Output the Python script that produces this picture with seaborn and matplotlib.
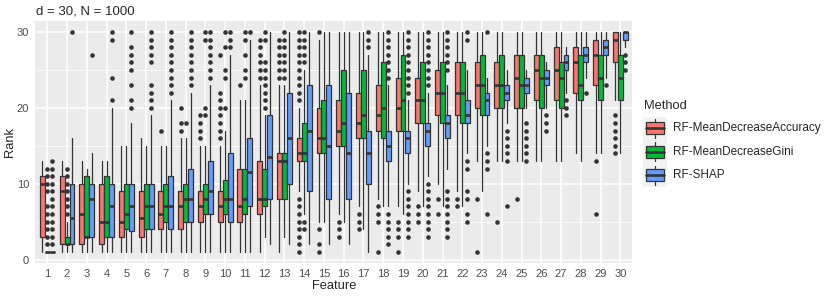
import matplotlib
matplotlib.use("Agg")
import matplotlib.pyplot as plt
from matplotlib.patches import Rectangle
from matplotlib.lines import Line2D
import seaborn as sns

# rank distributions per feature (d = 30, N = 1000)
features = list(range(1, 31))
methods = ["RF-MeanDecreaseAccuracy", "RF-MeanDecreaseGini", "RF-SHAP"]
palette = ["#F8766D", "#00BA38", "#619CFF"]

# RF-MeanDecreaseAccuracy
acc_lo = [1, 1, 1, 1, 1, 1, 1, 1, 1, 1, 1, 1, 1, 9, 5, 6, 7, 8, 7, 9, 10, 9, 13, 13, 13, 13, 13, 14, 14, 21]
acc_q1 = [3, 2, 2, 2, 3, 3, 4, 4, 5, 5, 5, 6, 8, 13, 14, 15, 16, 17, 17, 18, 19, 19, 20, 20, 20, 21, 21, 22, 23, 26]
acc_med = [10, 9, 6, 5, 5, 5.5, 6, 7, 7, 7, 7, 8, 13, 14, 16, 17, 18, 19, 20, 21, 22, 22, 23, 23, 24, 25, 25, 26, 27, 29]
acc_q3 = [11, 11, 10, 10, 9, 9, 9, 9, 9, 9, 12, 13, 14, 16, 20, 21, 22, 23, 24, 24, 25, 26, 26, 26, 27, 27, 28, 28, 29, 30]
acc_hi = [13, 13, 13, 13, 15, 16, 15, 16, 15, 15, 21, 23, 23, 20, 29, 30, 30, 30, 30, 30, 30, 30, 30, 30, 30, 30, 30, 30, 30, 30]
acc_out = [[], [], [], [], [], [], [17], [17, 18, 20], [16, 17, 18, 19],
           [16, 17, 18, 19, 20, 21, 22, 27], [23], [24, 25, 26, 27, 28, 29],
           [24, 25, 26, 27, 28, 29],
           [1, 2, 3, 4, 5, 6, 7, 8, 21, 22, 23, 24, 25, 26, 27, 28, 29, 30],
           [1, 2, 4, 30], [3, 4, 5], [4, 5, 6], [1, 5, 6, 7], [1, 3, 4, 5],
           [5, 6, 7], [6, 8], [7, 8], [1, 8], [5], [8], [], [], [], [6, 13],
           [14, 15, 16, 17, 18, 19]]

# RF-MeanDecreaseGini
gini_lo = [1, 1, 1, 1, 1, 1, 1, 1, 1, 1, 1, 3, 3, 6, 5, 5, 4, 7, 6, 7, 7, 7, 9, 13, 13, 13, 13, 13, 14, 14]
gini_q1 = [1, 2, 3, 3, 4, 4, 5, 5, 6, 6, 6, 7, 8, 13, 14, 15, 16, 16, 17, 18, 18, 18, 19, 20, 20, 20, 20, 21, 21, 21]
gini_med = [1, 2, 3, 5, 6, 7, 7, 8, 8, 8, 8, 8, 13, 14, 16, 18, 19, 20, 21, 21, 22, 22, 23, 23, 23, 24, 24, 23, 24, 24]
gini_q3 = [1, 3, 11, 11, 10, 10, 10, 10, 10, 10.5, 12, 12, 14, 18, 21, 25, 25, 26, 27, 26, 26, 26, 27, 27, 27, 27, 26, 27, 27, 27]
gini_hi = [1, 5, 12, 13, 15, 15, 15, 16, 15, 17, 21, 19, 23, 25, 30, 30, 30, 30, 30, 30, 30, 30, 30, 30, 30, 30, 30, 30, 30, 30]
gini_out = [[2, 3, 4, 5, 6, 7, 9, 10, 11, 12], [6, 7, 8, 9, 10, 11, 12], [], [], [],
            [], [], [18], [19, 20, 29, 30], [20, 24, 25, 28, 30],
            [24, 25, 27, 29, 30], [20, 21, 22, 23, 24, 25, 26, 29, 30],
            [24, 25, 26, 27, 28, 29, 30], [4, 5, 26, 27, 28, 29, 30],
            [], [], [], [], [], [], [], [], [], [], [], [], [], [], [], []]

# RF-SHAP
shap_lo = [1, 1, 1, 1, 1, 1, 1, 1, 1, 1, 1, 2, 2, 2, 2, 2, 1, 7, 10, 11, 12, 14, 15, 18, 20, 20, 22, 24, 24, 28]
shap_q1 = [1, 2, 3, 3, 3.75, 4, 4, 5, 6, 5, 7, 8, 10, 9, 8, 8, 10, 13, 14, 15, 16, 18, 19, 21, 22, 23, 25, 26, 27, 29]
shap_med = [1, 5.5, 8, 7, 7, 7, 7, 8, 9, 8, 11.5, 13.5, 16, 17, 15, 14, 14, 15, 16, 17, 18, 19, 21, 22, 23, 24, 26, 27, 28, 30]
shap_q3 = [1, 10, 10, 10, 10, 10, 11, 12, 13, 14, 16, 19, 22, 23, 23, 22, 17, 17, 17, 18, 19, 21, 22, 23, 24, 25, 27, 28, 29, 30]
shap_hi = [1, 16, 14, 20, 18, 19, 21, 22, 23, 27, 29, 30, 30, 30, 30, 30, 27, 23, 21, 22, 23, 25, 24, 25, 25, 26, 28, 30, 30, 30]
shap_out = [[2, 3, 4, 5, 6, 7, 8, 9, 10, 11, 12, 13], [30], [27], [21, 24, 29, 30],
            [20, 21, 23, 25, 26, 27, 28, 30],
            [20, 21, 22, 23, 26, 27, 28, 29, 30],
            [22, 23, 24, 25, 26, 27, 28, 29, 30],
            [23, 24, 25, 26, 27, 28, 29, 30],
            [24, 25, 26, 27, 28, 29, 30], [28, 29, 30], [30],
            [], [], [], [], [], [28, 29, 30],
            [2, 3, 4, 5, 6, 24, 25, 26, 27, 28, 29, 30],
            [3, 4, 5, 6, 7, 8, 9, 22, 23, 24, 25, 26, 27, 28, 29, 30],
            [3, 4, 5, 6, 7, 8, 9, 10, 23, 24, 25, 26, 27, 28, 29, 30],
            [3, 4, 5, 6, 7, 8, 9, 25, 26, 27, 28, 29, 30],
            [5, 6, 8, 9, 12, 13, 29, 30], [6, 12, 13, 14, 30],
            [7, 13, 14, 15, 16, 17], [13, 14, 15, 16, 17, 18],
            [17, 18, 19], [19, 20, 21], [22], [23], [25, 26, 27]]

series = [
    (acc_lo, acc_q1, acc_med, acc_q3, acc_hi, acc_out),
    (gini_lo, gini_q1, gini_med, gini_q3, gini_hi, gini_out),
    (shap_lo, shap_q1, shap_med, shap_q3, shap_hi, shap_out),
]

sns.set_theme(style="darkgrid")
plt.rcParams["font.family"] = ["Liberation Sans", "DejaVu Sans"]

dark = "#333333"
W, H = 830, 297
fig, ax = plt.subplots(figsize=(8.3, 2.97), dpi=100)
fig.subplots_adjust(left=0.0427, right=0.7617, bottom=0.1145, top=0.929)
ax.set_facecolor("#EBEBEB")

dodge = 0.25
for k, (lo, q1, med, q3, hi, out) in enumerate(series):
    stats = []
    for i in range(len(features)):
        stats.append(dict(whislo=lo[i], q1=q1[i], med=med[i], q3=q3[i],
                          whishi=hi[i], fliers=out[i]))
    pos = [f + (k - 1) * dodge for f in features]
    ax.bxp(stats, positions=pos, widths=dodge, patch_artist=True,
           showcaps=False, manage_ticks=False,
           boxprops=dict(facecolor=palette[k], edgecolor=dark, linewidth=0.9),
           medianprops=dict(color=dark, linewidth=1.9),
           whiskerprops=dict(color=dark, linewidth=0.9),
           flierprops=dict(marker="o", markerfacecolor=dark,
                           markeredgecolor="none", markersize=3.3))

ax.set_xlim(0.4, 30.6)
ax.set_ylim(-0.45, 31.45)
ax.set_xticks(features)
ax.set_xticklabels([str(f) for f in features])
ax.set_yticks([0, 10, 20, 30])
ax.set_yticks([5, 15, 25], minor=True)
ax.grid(which="major", color="white", linewidth=1.1)
ax.grid(which="minor", axis="y", color="white", linewidth=0.55)
ax.set_axisbelow(True)
for s in ax.spines.values():
    s.set_visible(False)
ax.tick_params(axis="both", which="major", length=3, width=0.9, color=dark,
               labelsize=8, labelcolor="#4D4D4D", pad=1.5)
ax.tick_params(axis="both", which="minor", length=0)
ax.set_xlabel("Feature", fontsize=9.3, labelpad=0.5)
ax.set_ylabel("Rank", fontsize=9.3, labelpad=0.5)

fig.text(35.7 / W, 1 - 14 / H, "d = 30, N = 1000", fontsize=9.5,
         va="baseline", ha="left")

# legend drawn as ggplot-style boxplot keys (pixel layout of the legend only)
def fx(x):
    return x / W


def fy(y):
    return 1 - y / H


key_left, key_top, key = 643.3, 116.5, 23.5
fig.text(fx(644), fy(109), "Method", fontsize=9.3, va="baseline", ha="left")
fig.add_artist(Rectangle((fx(key_left), fy(key_top + key * len(methods))),
                         key / W, key * len(methods) / H,
                         transform=fig.transFigure, facecolor="#F2F2F2",
                         edgecolor="none"))
for i, (name, col) in enumerate(zip(methods, palette)):
    top = key_top + i * key
    cx = key_left + key / 2
    for a, b in [(0.1, 0.25), (0.75, 0.9)]:
        fig.add_artist(Line2D([fx(cx), fx(cx)], [fy(top + a * key), fy(top + b * key)],
                              transform=fig.transFigure, color=dark, linewidth=0.9))
    fig.add_artist(Rectangle((fx(key_left + 0.125 * key), fy(top + 0.75 * key)),
                             0.75 * key / W, 0.5 * key / H,
                             transform=fig.transFigure, facecolor=col,
                             edgecolor=dark, linewidth=0.9))
    fig.add_artist(Line2D([fx(key_left + 0.125 * key), fx(key_left + 0.875 * key)],
                          [fy(top + 0.5 * key)] * 2, transform=fig.transFigure,
                          color=dark, linewidth=1.9))
    fig.text(fx(673.3), fy(top + key / 2), name, fontsize=8.5,
             va="center", ha="left")

fig.savefig("out.png", dpi=100)
